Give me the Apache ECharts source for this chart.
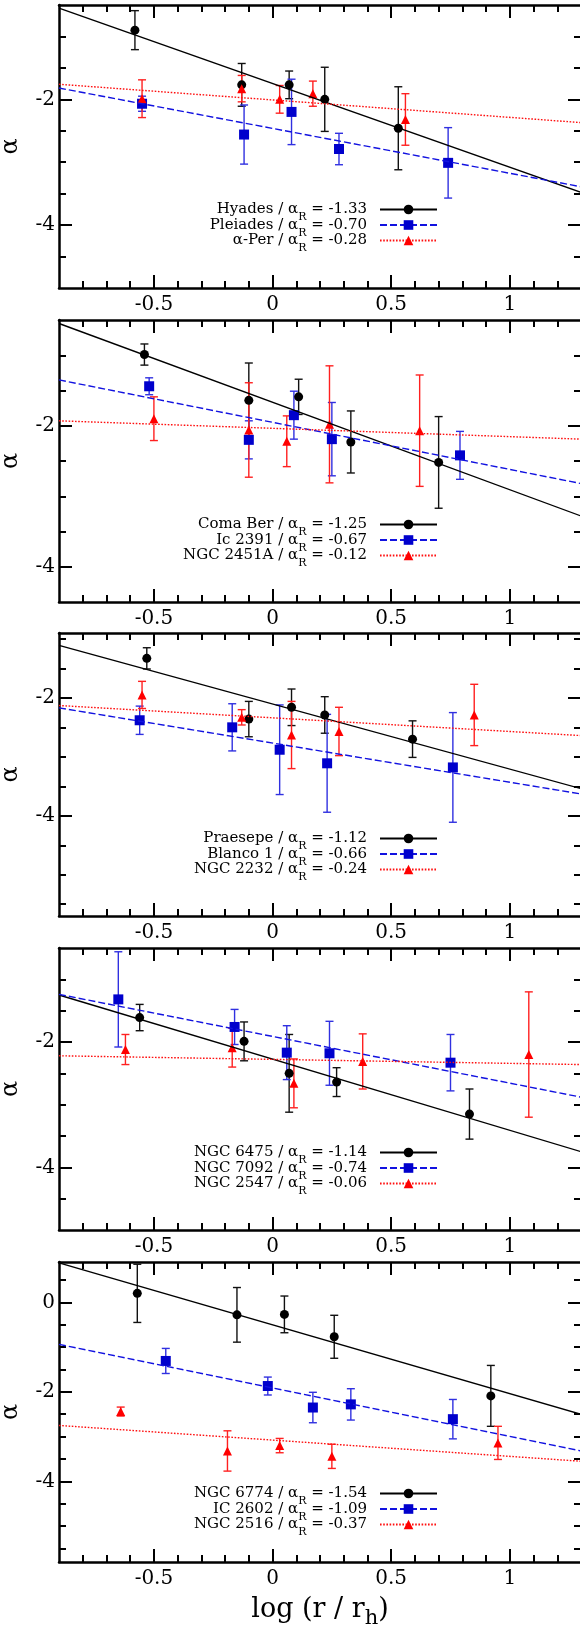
<!DOCTYPE html>
<html><head><meta charset="utf-8">
<script src="https://cdn.jsdelivr.net/npm/echarts@6/dist/echarts.min.js"></script>
<style>html,body{margin:0;padding:0;background:#fff}#c{width:580px;height:1635px}</style>
</head><body><div id="c"></div><script>
const FONT = '"DejaVu Serif", serif';

// ---- axes / ticks ----
const xRange = [-0.9, 1.3];
const xMajorTicks = [-0.5, 0, 0.5, 1];
const xMinorTicks = [-0.8,-0.7,-0.6,-0.5,-0.4,-0.3,-0.2,-0.1,0,0.1,0.2,0.3,0.4,0.5,0.6,0.7,0.8,0.9,1.0,1.1,1.2];
const yRanges = [[-5,-0.5],[-4.5,-0.5],[-5.7,-0.9],[-5,-0.5],[-5.8,0.9]];
const yMajorTicks = [[-4,-2],[-4,-2],[-4,-2],[-4,-2],[-4,-2,0]];
const yMinorTicks = [
  [-4.5,-4,-3.5,-3,-2.5,-2,-1.5,-1],
  [-4,-3.5,-3,-2.5,-2,-1.5,-1],
  [-5.5,-5,-4.5,-4,-3.5,-3,-2.5,-2,-1.5,-1],
  [-4.5,-4,-3.5,-3,-2.5,-2,-1.5,-1],
  [-5.5,-5,-4.5,-4,-3.5,-3,-2.5,-2,-1.5,-1,-0.5,0,0.5]
];

// ---- cluster names and alpha_R ----
const clusterNames = [
  ["Hyades","Pleiades","α-Per"],
  ["Coma Ber","Ic 2391","NGC 2451A"],
  ["Praesepe","Blanco 1","NGC 2232"],
  ["NGC 6475","NGC 7092","NGC 2547"],
  ["NGC 6774","IC 2602","NGC 2516"]
];
const alphaR = [
  ["-1.33","-0.70","-0.28"],
  ["-1.25","-0.67","-0.12"],
  ["-1.12","-0.66","-0.24"],
  ["-1.14","-0.74","-0.06"],
  ["-1.54","-1.09","-0.37"]
];

// ---- data: x, alpha, error, fit (alpha at x=-0.9 and x=1.3) ----
const hyadesX = [-0.58,-0.13,0.07,0.22,0.53];
const hyadesY = [-0.90,-1.77,-1.77,-2.00,-2.46];
const hyadesErr = [0.31,0.34,0.22,0.51,0.66];
const hyadesFit = [-0.55,-3.48];
const pleiadesX = [-0.55,-0.12,0.08,0.28,0.74];
const pleiadesY = [-2.07,-2.56,-2.20,-2.79,-3.01];
const pleiadesErr = [0.12,0.47,0.52,0.25,0.56];
const pleiadesFit = [-1.82,-3.39];
const aPerX = [-0.55,-0.13,0.03,0.17,0.56];
const aPerY = [-1.99,-1.83,-2.00,-1.91,-2.32];
const aPerErr = [0.30,0.21,0.22,0.20,0.41];
const aPerFit = [-1.76,-2.37];

const comaX = [-0.54,-0.10,0.11,0.33,0.70];
const comaY = [-0.99,-1.64,-1.59,-2.23,-2.52];
const comaErr = [0.15,0.53,0.25,0.44,0.65];
const comaFit = [-0.55,-3.28];
const ic2391X = [-0.52,-0.10,0.09,0.25,0.79];
const ic2391Y = [-1.44,-2.20,-1.85,-2.19,-2.42];
const ic2391Err = [0.12,0.27,0.34,0.52,0.34];
const ic2391Fit = [-1.35,-2.82];
const n2451X = [-0.50,-0.10,0.06,0.24,0.62];
const n2451Y = [-1.90,-2.06,-2.22,-1.98,-2.07];
const n2451Err = [0.31,0.67,0.36,0.83,0.79];
const n2451Fit = [-1.93,-2.19];

const praesepeX = [-0.53,-0.10,0.08,0.22,0.59];
const praesepeY = [-1.33,-2.36,-2.16,-2.29,-2.70];
const praesepeErr = [0.18,0.30,0.31,0.31,0.31];
const praesepeFit = [-1.11,-3.54];
const blancoX = [-0.56,-0.17,0.03,0.23,0.76];
const blancoY = [-2.38,-2.50,-2.88,-3.11,-3.18];
const blancoErr = [0.24,0.40,0.76,0.83,0.93];
const blancoFit = [-2.17,-3.63];
const n2232X = [-0.55,-0.13,0.08,0.28,0.85];
const n2232Y = [-1.95,-2.33,-2.63,-2.57,-2.29];
const n2232Err = [0.23,0.13,0.57,0.41,0.52];
const n2232Fit = [-2.13,-2.64];

const n6475X = [-0.56,-0.12,0.07,0.27,0.83];
const n6475Y = [-1.61,-1.99,-2.50,-2.64,-3.15];
const n6475Err = [0.21,0.31,0.62,0.23,0.40];
const n6475Fit = [-1.25,-3.75];
const n7092X = [-0.65,-0.16,0.06,0.24,0.75];
const n7092Y = [-1.32,-1.76,-2.17,-2.18,-2.33];
const n7092Err = [0.76,0.28,0.43,0.51,0.45];
const n7092Fit = [-1.24,-2.88];
const n2547X = [-0.62,-0.17,0.09,0.38,1.08];
const n2547Y = [-2.12,-2.09,-2.66,-2.31,-2.20];
const n2547Err = [0.24,0.31,0.39,0.44,1.00];
const n2547Fit = [-2.22,-2.36];

const n6774X = [-0.57,-0.15,0.05,0.26,0.92];
const n6774Y = [0.20,-0.28,-0.27,-0.77,-2.09];
const n6774Err = [0.65,0.61,0.41,0.48,0.68];
const n6774Fit = [0.88,-2.50];
const ic2602X = [-0.45,-0.02,0.17,0.33,0.76];
const ic2602Y = [-1.31,-1.87,-2.35,-2.28,-2.61];
const ic2602Err = [0.28,0.20,0.34,0.35,0.44];
const ic2602Fit = [-0.94,-3.32];
const n2516X = [-0.64,-0.19,0.03,0.25,0.95];
const n2516Y = [-2.44,-3.32,-3.20,-3.44,-3.14];
const n2516Err = [0.10,0.45,0.16,0.27,0.37];
const n2516Fit = [-2.75,-3.55];

const panelData = [
  [[hyadesX,hyadesY,hyadesErr,hyadesFit],[pleiadesX,pleiadesY,pleiadesErr,pleiadesFit],[aPerX,aPerY,aPerErr,aPerFit]],
  [[comaX,comaY,comaErr,comaFit],[ic2391X,ic2391Y,ic2391Err,ic2391Fit],[n2451X,n2451Y,n2451Err,n2451Fit]],
  [[praesepeX,praesepeY,praesepeErr,praesepeFit],[blancoX,blancoY,blancoErr,blancoFit],[n2232X,n2232Y,n2232Err,n2232Fit]],
  [[n6475X,n6475Y,n6475Err,n6475Fit],[n7092X,n7092Y,n7092Err,n7092Fit],[n2547X,n2547Y,n2547Err,n2547Fit]],
  [[n6774X,n6774Y,n6774Err,n6774Fit],[ic2602X,ic2602Y,ic2602Err,ic2602Fit],[n2516X,n2516Y,n2516Err,n2516Fit]]
];

// ---- layout & styles ----
const gridTops = [5, 320, 633, 948, 1262];
const gridHeights = [283, 282, 283, 282, 300];
const legendTops = [196, 511, 825, 1139, 1480];
const STYLES = [
  {color:'#000000', line:'#000000', bar:'#111111', symbol:'circle', size:9, dash:'solid'},
  {color:'#0000cc', line:'#1212e0', bar:'#3030e0', symbol:'rect', size:10, dash:[7,3]},
  {color:'#ff0000', line:'#ff1010', bar:'#ff2020', symbol:'triangle', size:9, dash:[1.6,1.6]}
];

function errRender(color) {
  return function (params, api) {
    const x = api.value(0), y = api.value(1), e = api.value(2);
    const a = api.coord([x, y + e]);
    const b = api.coord([x, y - e]);
    const w = 4;
    const st = {stroke: color, lineWidth: 1.4};
    return {type:'group', children:[
      {type:'line', shape:{x1:a[0], y1:a[1], x2:b[0], y2:b[1]}, style:st},
      {type:'line', shape:{x1:a[0]-w, y1:a[1], x2:a[0]+w, y2:a[1]}, style:st},
      {type:'line', shape:{x1:b[0]-w, y1:b[1], x2:b[0]+w, y2:b[1]}, style:st}
    ]};
  };
}

const grids = [], xAxes = [], yAxes = [], series = [], legends = [];
const tickLine = {color:'#000', width:2};
const frameLine = {color:'#000', width:2.5};

for (let p = 0; p < 5; p++) {
  grids.push({left:59, right:-1, top:gridTops[p], height:gridHeights[p], outerBoundsMode:'none', containLabel:false});
  const base = {gridIndex:p, type:'value', min:xRange[0], max:xRange[1], splitLine:{show:false}};
  const xMain = Object.assign({}, base, {
    position:'bottom',
    axisLine:{show:true, onZero:false, lineStyle:frameLine},
    axisTick:{show:true, inside:true, length:7, lineStyle:tickLine, customValues:xMinorTicks},
    axisLabel:{show:true, customValues:xMajorTicks, margin:6, fontFamily:FONT, fontSize:20, color:'#000', lineHeight:22}
  });
  if (p === 4) {
    Object.assign(xMain, {
      name:'{m|log (r / r}{s|h}{m|)}', nameLocation:'middle', nameGap:32,
      nameTextStyle:{fontFamily:FONT, fontSize:27, color:'#000',
        rich:{m:{fontFamily:FONT, fontSize:27, lineHeight:30, color:'#000'},
              s:{fontFamily:FONT, fontSize:21, lineHeight:22, padding:[17,0,0,0], color:'#000'}}}
    });
  }
  xAxes.push(xMain);
  xAxes.push(Object.assign({}, base, {position:'bottom', axisLine:{show:false, onZero:false},
    axisTick:{show:true, inside:true, length:13, lineStyle:tickLine, customValues:xMajorTicks},
    axisLabel:{show:false, customValues:xMajorTicks}}));
  xAxes.push(Object.assign({}, base, {position:'top', axisLine:{show:true, onZero:false, lineStyle:frameLine},
    axisTick:{show:true, inside:true, length:7, lineStyle:tickLine, customValues:xMinorTicks},
    axisLabel:{show:false}}));
  xAxes.push(Object.assign({}, base, {position:'top', axisLine:{show:false, onZero:false},
    axisTick:{show:true, inside:true, length:13, lineStyle:tickLine, customValues:xMajorTicks},
    axisLabel:{show:false, customValues:xMajorTicks}}));

  const yb = {gridIndex:p, type:'value', min:yRanges[p][0], max:yRanges[p][1], splitLine:{show:false}};
  yAxes.push(Object.assign({}, yb, {position:'left',
    axisLine:{show:true, onZero:false, lineStyle:frameLine},
    axisTick:{show:true, inside:true, length:7, lineStyle:tickLine, customValues:yMinorTicks[p]},
    axisLabel:{show:true, customValues:yMajorTicks[p], margin:4, fontFamily:FONT, fontSize:20, color:'#000'},
    name:'α', nameLocation:'middle', nameGap:26, nameRotate:90,
    nameTextStyle:{fontFamily:FONT, fontSize:24, color:'#000', lineHeight:28}}));
  yAxes.push(Object.assign({}, yb, {position:'left', axisLine:{show:false, onZero:false},
    axisTick:{show:true, inside:true, length:13, lineStyle:tickLine, customValues:yMajorTicks[p]},
    axisLabel:{show:false, customValues:yMajorTicks[p]}}));
  yAxes.push(Object.assign({}, yb, {position:'right', axisLine:{show:true, onZero:false, lineStyle:frameLine},
    axisTick:{show:true, inside:true, length:7, lineStyle:tickLine, customValues:yMinorTicks[p]},
    axisLabel:{show:false}}));
  yAxes.push(Object.assign({}, yb, {position:'right', axisLine:{show:false, onZero:false},
    axisTick:{show:true, inside:true, length:13, lineStyle:tickLine, customValues:yMajorTicks[p]},
    axisLabel:{show:false, customValues:yMajorTicks[p]}}));

  const xi = 4 * p, yi = 4 * p;
  // fit lines (legend entries)
  for (let k = 0; k < 3; k++) {
    const st = STYLES[k];
    const fit = panelData[p][k][3];
    series.push({type:'line', name:clusterNames[p][k], xAxisIndex:xi, yAxisIndex:yi,
      data:[[xRange[0], fit[0]], [xRange[1], fit[1]]],
      symbol:st.symbol, symbolSize:st.size, showSymbol:false, silent:true,
      lineStyle:{color:st.line, width:1.4, type:st.dash}, itemStyle:{color:st.color}});
  }
  // error bars + points
  for (let k = 0; k < 3; k++) {
    const st = STYLES[k];
    const [xs, ys, es] = panelData[p][k];
    series.push({type:'custom', name:clusterNames[p][k] + ' err', xAxisIndex:xi, yAxisIndex:yi,
      renderItem:errRender(st.bar), encode:{x:0, y:1}, silent:true,
      data:xs.map((x, i) => [x, ys[i], es[i]])});
    series.push({type:'scatter', name:clusterNames[p][k] + ' pts', xAxisIndex:xi, yAxisIndex:yi,
      symbol:st.symbol, symbolSize:st.size, silent:true, itemStyle:{color:st.color, opacity:1},
      data:xs.map((x, i) => [x, ys[i]])});
  }
  const names = clusterNames[p], alphas = alphaR[p];
  legends.push({
    data:names, orient:'vertical', align:'right', right:142, top:legendTops[p],
    itemWidth:57, itemHeight:12, itemGap:-11.5, padding:0, selectedMode:false,
    formatter: n => `{t|${n} / α}{s|R}{t| = ${alphas[names.indexOf(n)]}}{g|}`,
    textStyle:{fontFamily:FONT, fontSize:15, color:'#000',
      rich:{t:{fontFamily:FONT, fontSize:15, lineHeight:18, color:'#000'},
            s:{fontFamily:FONT, fontSize:11, lineHeight:14, padding:[16,0,0,0], color:'#000'},
            g:{width:8}}}
  });
}

const chart = echarts.init(document.getElementById('c'), null, {renderer:'canvas'});
chart.setOption({animation:false, backgroundColor:'#fff', grid:grids, xAxis:xAxes, yAxis:yAxes, legend:legends, series:series});
</script></body></html>
